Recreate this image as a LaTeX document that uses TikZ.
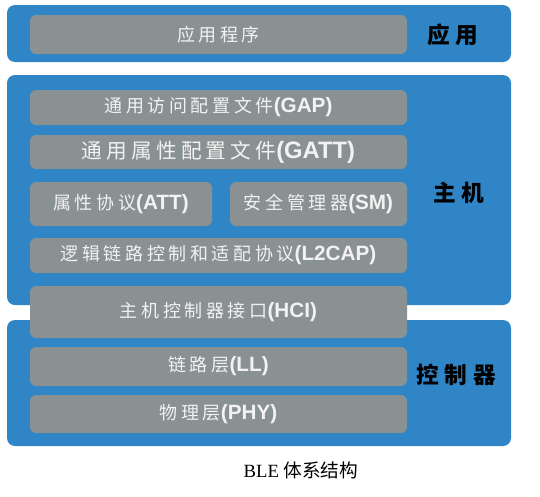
\documentclass[tikz,border=0pt]{standalone}
\usepackage{fontspec}
\setmainfont{Liberation Serif}
\newfontfamily\cjk{Noto Sans CJK SC}
\newfontfamily\boxcjk[LetterSpace=20]{Noto Sans CJK SC}
\newfontfamily\sidecjk[LetterSpace=25]{Noto Sans CJK SC}
\newfontfamily\boxlatin[Scale=1.15]{Liberation Sans}
\usepackage{xcolor}
\usepackage{tikz}
\usetikzlibrary{positioning}

\definecolor{bleblue}{HTML}{2F85C5}
\definecolor{blegray}{HTML}{8A9192}

% text of a gray layer: Chinese name + (abbreviation)
\newcommand{\layertxt}[2]{{\boxcjk #1}{\boxlatin\bfseries (#2)}}

\begin{document}
\begin{tikzpicture}[
    x=0.75pt, y=-0.75pt,
    layer/.style={fill=bleblue, minimum width=378pt, inner sep=0pt, rounded corners=6pt},
    pill/.style={fill=blegray, text=white!95!black, minimum width=#1, inner sep=0pt, rounded corners=4.5pt,
                 font=\fontsize{13.5}{15}\selectfont},
    pill/.default=282.75pt,
    side/.style={font=\sidecjk\bfseries\fontsize{17}{20}\selectfont}
]

% fixed canvas
\path[use as bounding box] (0,0) rectangle (540,497);

% ===== BLUE LAYERS =====
\node[layer, minimum height=42.75pt] (app)  at (259,33.5) {};
\node[layer, minimum height=172.5pt] (host) at (259,190)  {};
\node[layer, minimum height=94.5pt]  (ctrl) at (259,383)  {};

% ===== SIDE LABELS =====
\node[side] (appname)  at (453,35)  {应用};
\node[side] (hostname) at (459,193) {主机};
\node[side] (ctrlname) at (456,375) {控制器};

% ===== APP =====
\node[pill, minimum height=29.25pt] (prog) at (218.5,34.5) {{\boxcjk 应用程序}};

% ===== HOST =====
\node[pill, minimum height=26.25pt] (gap) at (218.5,107.5) {\layertxt{通用访问配置文件}{GAP}};
\node[pill, minimum height=25.5pt, font=\fontsize{15.5}{17}\selectfont] (gatt) at (218.5,152) {\layertxt{通用属性配置文件}{GATT}};
\node[pill=136.5pt, minimum height=33pt] (att) at (121,204) {\layertxt{属性协议}{ATT}};
\node[pill=132.75pt, minimum height=33pt] (sm) at (318.5,204) {\layertxt{安全管理器}{SM}};
\node[pill, minimum height=26.25pt] (l2cap) at (218.5,255.5) {\layertxt{逻辑链路控制和适配协议}{L2CAP}};

% ===== HCI (spans host / controller) =====
\node[pill, minimum height=39pt] (hci) at (218.5,312) {\layertxt{主机控制器接口}{HCI}};

% ===== CONTROLLER =====
\node[pill, minimum height=29.25pt] (ll)  at (218.5,366.5) {\layertxt{链路层}{LL}};
\node[pill, minimum height=28.5pt]  (phy) at (218.5,414)   {\layertxt{物理层}{PHY}};

% ===== CAPTION =====
\node[font=\fontsize{14}{16}\selectfont] (caption) at (301,470) {BLE {\cjk 体系结构}};

\end{tikzpicture}
\end{document}
